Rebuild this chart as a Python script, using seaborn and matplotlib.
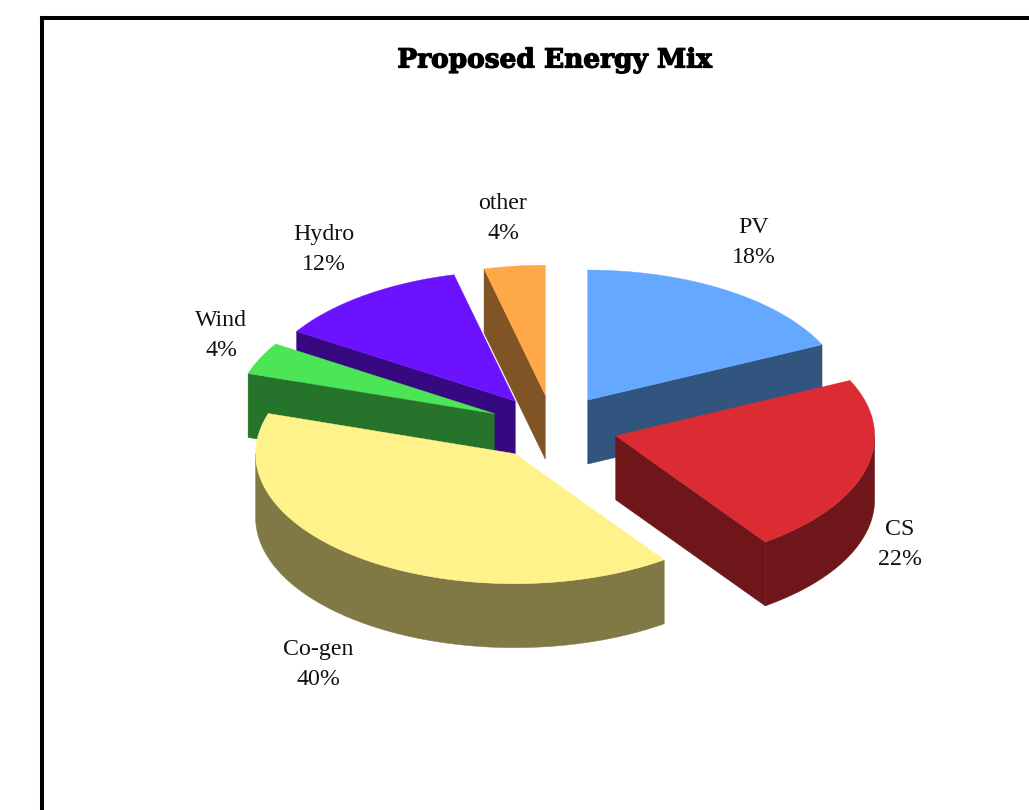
import numpy as np
import matplotlib
matplotlib.use("Agg")
import matplotlib.pyplot as plt
import matplotlib.patheffects as pe
import seaborn as sns

sns.set_theme(style="white")

# data
categories = ["PV", "CS", "Co-gen", "Wind", "Hydro", "other"]
shares = [18.0, 22.2, 39.8, 4.0, 12.2, 3.8]
top_colors = ["#64A9FF", "#DC2C33", "#FFF28A", "#4CE555", "#6B12FF", "#FFA848"]
title = "Proposed Energy Mix"

# layout (pixels)
cx, cy = 553.0, 427.5
rx, ry = 259.0, 130.0
depth = 64.0
explode = 0.25
shade = 0.5
label_xy = [(754, 242.5), (900, 544.5), (318, 664.5), (221, 335.5), (324, 249.5), (503, 218.5)]
draw_order = [5, 0, 4, 3, 1, 2]

fig = plt.figure(figsize=(10.29, 8.10), dpi=100, facecolor="white")
ax = fig.add_axes([0, 0, 1, 1])
ax.set_xlim(0, 1029)
ax.set_ylim(810, 0)
ax.axis("off")

palette = sns.color_palette(top_colors)
side_palette = [tuple(c * shade for c in col) for col in palette]

total = float(sum(shares))
edges = np.concatenate([[0.0], np.cumsum(shares)]) / total * 2 * np.pi


def pt(x0, y0, t, r=1.0):
    return x0 + r * rx * np.sin(t), y0 - r * ry * np.cos(t)


for i in draw_order:
    t0, t1 = edges[i], edges[i + 1]
    mid = (t0 + t1) / 2
    ax0, ay0 = pt(cx, cy, mid, explode)
    ts = np.linspace(t0, t1, 200)
    ex, ey = pt(ax0, ay0, ts)
    z = 2 + draw_order.index(i)

    # radial walls that face the viewer
    for t, visible in ((t0, np.pi <= t0 % (2 * np.pi)), (t1, t1 <= np.pi)):
        if visible:
            px, py = pt(ax0, ay0, t)
            ax.fill([ax0, px, px, ax0], [ay0, py, py + depth, ay0 + depth],
                    color=side_palette[i], lw=0.3, zorder=z)

    # outer rim, front half of the ellipse only
    lo, hi = max(t0, np.pi / 2), min(t1, 3 * np.pi / 2)
    if hi > lo:
        rt = np.linspace(lo, hi, 200)
        rxs, rys = pt(ax0, ay0, rt)
        ax.fill(np.r_[rxs, rxs[::-1]], np.r_[rys, rys[::-1] + depth],
                color=side_palette[i], lw=0.3, zorder=z)

    # top face
    ax.fill(np.r_[ax0, ex], np.r_[ay0, ey], color=palette[i], lw=0.3, zorder=z + 0.5)

# frame
ax.plot([41.5, 41.5], [810, 17.5], color="black", lw=2.9, solid_capstyle="projecting", zorder=20)
ax.plot([41.5, 1029], [17.5, 17.5], color="black", lw=2.9, solid_capstyle="projecting", zorder=20)

for i, name in enumerate(categories):
    ax.text(label_xy[i][0], label_xy[i][1], f"{name}\n{round(shares[i])}%", ha="center", va="center",
            family="Liberation Serif", fontsize=17.2, color="#111111", linespacing=1.62, zorder=30)

ax.text(554.5, 60, title, ha="center", va="center", family="DejaVu Serif",
        fontweight="bold", fontsize=19, color="black", zorder=30,
        path_effects=[pe.withStroke(linewidth=0.9, foreground="black")])

fig.savefig("out.png", dpi=100, facecolor="white")
